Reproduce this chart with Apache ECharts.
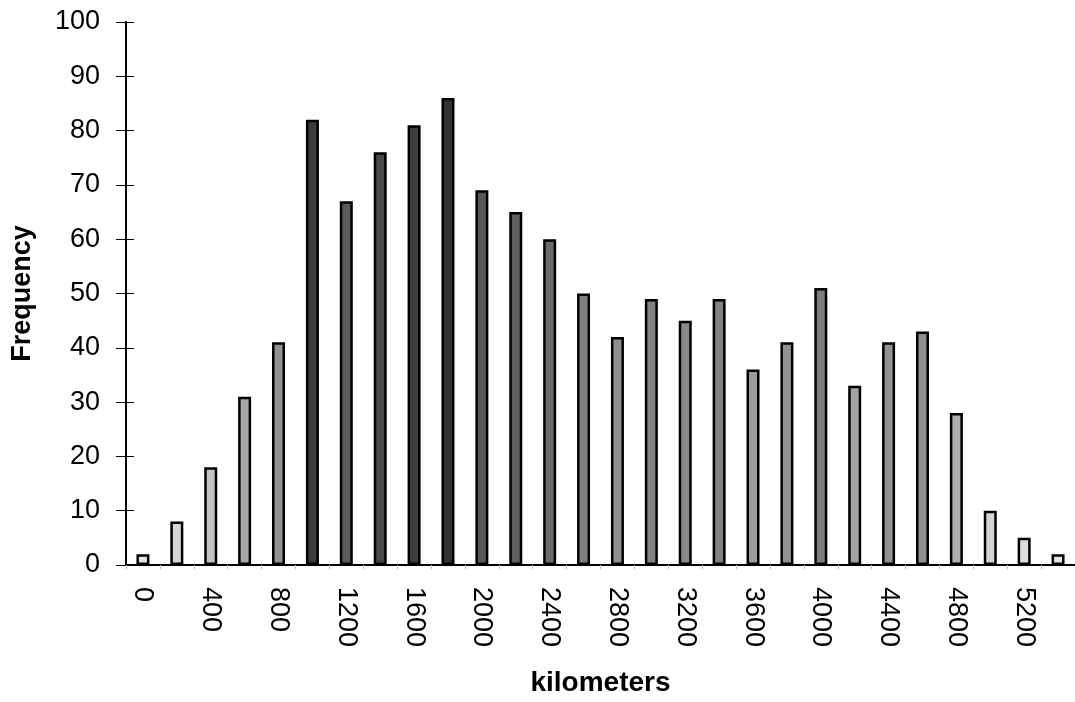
<!DOCTYPE html>
<html>
<head>
<meta charset="utf-8">
<script src="https://cdn.jsdelivr.net/npm/echarts@6/dist/echarts.min.js"></script>
<style>
  html, body { margin: 0; padding: 0; background: #fff; }
  #chart { width: 1075px; height: 702px; }
</style>
</head>
<body>
<div id="chart"></div>
<script>
// distance bins (km) and how many fall in each
var categories = ['0', '200', '400', '600', '800', '1000', '1200', '1400', '1600', '1800',
  '2000', '2200', '2400', '2600', '2800', '3000', '3200', '3400', '3600', '3800',
  '4000', '4200', '4400', '4600', '4800', '5000', '5200', '5400'];
var frequency = [2, 8, 18, 31, 41, 82, 67, 76, 81, 86,
  69, 65, 60, 50, 42, 49, 45, 49, 36, 41,
  51, 33, 41, 43, 28, 10, 5, 2];
var yTicks = [0, 10, 20, 30, 40, 50, 60, 70, 80, 90, 100];

var font = 'Liberation Sans, Arial, sans-serif';

// scanned stipple: taller bars came out darker
function shade(v) {
  var g = Math.round(232 - v * 2.1);
  return 'rgb(' + g + ',' + g + ',' + g + ')';
}

var myChart = echarts.init(document.getElementById('chart'));
var option = {
  animation: false,
  grid: { left: 126, top: 22, width: 951, bottom: 136 },
  xAxis: [
    {
      type: 'category',
      data: categories,
      name: 'kilometers',
      nameLocation: 'middle',
      nameGap: 104,
      nameTextStyle: { fontFamily: font, fontSize: 28, fontWeight: 'bold', color: '#000' },
      axisLine: { lineStyle: { color: '#000', width: 2 } },
      axisTick: { show: true, interval: 0, length: 4, lineStyle: { color: '#bbb' } },
      axisLabel: {
        interval: 1,
        rotate: -90,
        margin: 22,
        fontFamily: font,
        fontSize: 27,
        color: '#000'
      }
    },
    {
      type: 'category',
      position: 'top',
      data: categories,
      axisLine: { show: true, lineStyle: { color: '#000', width: 2 } },
      axisTick: { show: false },
      axisLabel: { show: false }
    }
  ],
  yAxis: [
    {
      type: 'value',
      min: yTicks[0],
      max: yTicks[yTicks.length - 1],
      interval: 10,
      name: 'Frequency',
      nameLocation: 'middle',
      nameGap: 90,
      nameTextStyle: { fontFamily: font, fontSize: 27, fontWeight: 'bold', color: '#000' },
      splitLine: { show: false },
      axisLine: { show: true, lineStyle: { color: '#000', width: 2 } },
      axisTick: { show: true, length: 10, lineStyle: { color: '#000' } },
      axisLabel: { margin: 26, fontFamily: font, fontSize: 27, color: '#000' }
    },
    {
      type: 'value',
      position: 'left',
      offset: 0,
      min: yTicks[0],
      max: yTicks[yTicks.length - 1],
      interval: 10,
      splitLine: { show: false },
      axisLine: { show: false },
      axisTick: { show: true, inside: true, length: 8, lineStyle: { color: '#000' } },
      axisLabel: { show: false }
    }
  ],
  series: [
    {
      type: 'bar',
      data: frequency,
      barWidth: 13,
      itemStyle: {
        color: function (p) { return shade(p.value); },
        borderColor: '#000',
        borderWidth: 2.5
      }
    }
  ]
};
myChart.setOption(option);
</script>
</body>
</html>
